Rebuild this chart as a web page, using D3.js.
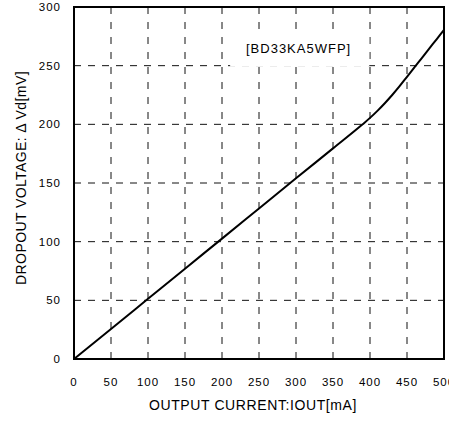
<!DOCTYPE html>
<html>
<head>
<meta charset="utf-8">
<script src="https://cdn.jsdelivr.net/npm/d3@7"></script>
<style>
  body { margin: 0; background: #fff; }
  svg { display: block; }
  text { font-family: "Liberation Sans", Arial, sans-serif; fill: #000; }
</style>
</head>
<body>
<div id="chart"></div>
<script>
// 数据
const currentMA = [0, 50, 100, 150, 200, 250, 300, 350, 390, 400, 410, 420, 430, 440, 450, 460, 470, 480, 490, 500];
const dropoutMV = [0, 25.6, 51.3, 77, 102.6, 128.3, 154, 179.5, 200, 205.5, 211.5, 218, 225, 232.5, 240.5, 248.5, 256.5, 264.5, 272.5, 280.5];
const xTicks = [0, 50, 100, 150, 200, 250, 300, 350, 400, 450, 500];
const yTicks = [0, 50, 100, 150, 200, 250, 300];
const deviceLabel = "[BD33KA5WFP]";

const W = 449, H = 427;
const margin = { top: 7, right: 5, bottom: 68, left: 74 };
const width = W - margin.left - margin.right;
const height = H - margin.top - margin.bottom;

const svgRoot = d3.select("#chart").append("svg")
  .attr("width", W).attr("height", H);
const svg = svgRoot.append("g")
  .attr("transform", `translate(${margin.left},${margin.top})`);

const x = d3.scaleLinear().domain([0, 500]).range([0, width]);
const y = d3.scaleLinear().domain([0, 300]).range([height, 0]);

// 网格线
svg.selectAll(".vgrid")
  .data(xTicks.filter(d => d > 0 && d < 500))
  .enter().append("line")
  .attr("x1", d => x(d)).attr("x2", d => x(d))
  .attr("y1", 0).attr("y2", height)
  .attr("stroke", "#111").attr("stroke-width", 1)
  .attr("stroke-dasharray", "7,8");

svg.selectAll(".hgrid")
  .data(yTicks.filter(d => d > 0 && d < 300))
  .enter().append("line")
  .attr("x1", 0).attr("x2", width)
  .attr("y1", d => y(d)).attr("y2", d => y(d))
  .attr("stroke", "#111").attr("stroke-width", 1)
  .attr("stroke-dasharray", "7,7");

// 标签背景
svg.append("rect")
  .attr("x", x(211)).attr("y", y(275))
  .attr("width", x(399) - x(211))
  .attr("height", y(249.3) - y(275))
  .attr("fill", "#fff");

svg.append("text")
  .attr("x", (x(233) + x(374)) / 2)
  .attr("y", y(265))
  .attr("dy", "0.35em")
  .attr("text-anchor", "middle")
  .style("font-size", "13px")
  .style("letter-spacing", "1px")
  .text(deviceLabel);

// 曲线
const line = d3.line()
  .curve(d3.curveMonotoneX)
  .x((d, i) => x(currentMA[i]))
  .y(d => y(d));

svg.append("path")
  .datum(dropoutMV)
  .attr("d", line)
  .attr("fill", "none")
  .attr("stroke", "#000")
  .attr("stroke-width", 2);

// 边框
svg.append("rect")
  .attr("x", 0).attr("y", 0)
  .attr("width", width).attr("height", height)
  .attr("fill", "none")
  .attr("stroke", "#000")
  .attr("stroke-width", 2);

// 刻度标签
svg.selectAll(".xtick")
  .data(xTicks)
  .enter().append("text")
  .attr("x", d => x(d))
  .attr("y", height + 23)
  .attr("dy", "0.35em")
  .attr("text-anchor", "middle")
  .style("font-size", "11.5px")
  .style("letter-spacing", "1px")
  .text(d => d);

svg.selectAll(".ytick")
  .data(yTicks)
  .enter().append("text")
  .attr("x", -13)
  .attr("y", d => y(d))
  .attr("dy", "0.35em")
  .attr("text-anchor", "end")
  .style("font-size", "11.5px")
  .style("letter-spacing", "1px")
  .text(d => d);

// 轴标题
svg.append("text")
  .attr("x", width / 2 - 6)
  .attr("y", height + 51)
  .attr("text-anchor", "middle")
  .style("font-size", "14px")
  .style("letter-spacing", "0.6px")
  .text("OUTPUT CURRENT:IOUT[mA]");

svg.append("text")
  .attr("transform", `translate(${-48},${height / 2 - 5}) rotate(-90)`)
  .attr("text-anchor", "middle")
  .style("font-size", "14px")
  .style("letter-spacing", "0.4px")
  .text("DROPOUT VOLTAGE: Δ Vd[mV]");
</script>
</body>
</html>
